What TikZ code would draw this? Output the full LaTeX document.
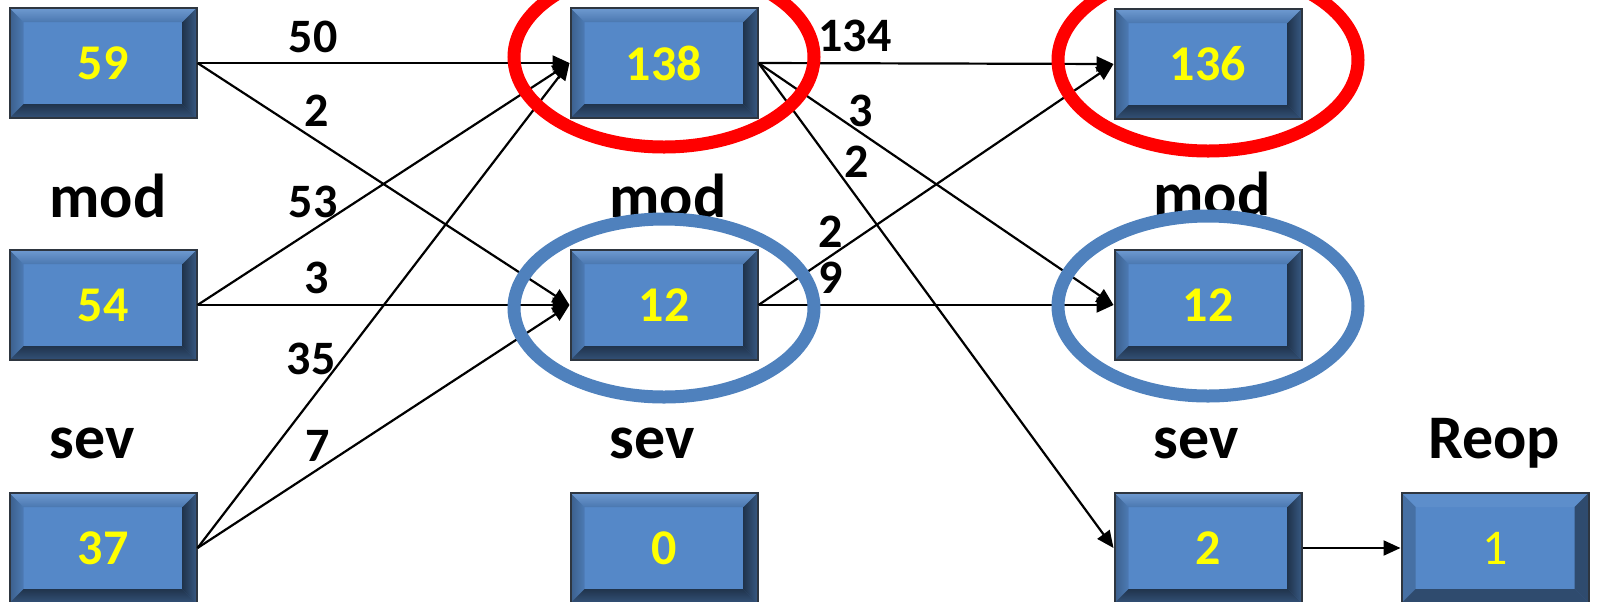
\documentclass[tikz,border=0pt]{standalone}
\usepackage{fontspec}
\setmainfont{Carlito}
\usetikzlibrary{arrows.meta,calc}
\definecolor{face}{HTML}{5588C8}
\definecolor{boxline}{HTML}{2E3640}
\definecolor{numyellow}{HTML}{FFFF00}
\definecolor{ringblue}{HTML}{4F81BD}
\definecolor{ringred}{HTML}{FF0000}
\tikzset{
  bevelbox/.style={draw=boxline, line width=1pt, fill=face,
    minimum width=93.5pt, minimum height=55pt, inner sep=0pt,
    text=numyellow, font=\bfseries\fontsize{25}{30}\selectfont,
    path picture={
      \coordinate (bxD) at (path picture bounding box.north west);
      \coordinate (bxC) at (path picture bounding box.north east);
      \coordinate (bxA) at (path picture bounding box.south west);
      \coordinate (bxB) at (path picture bounding box.south east);
      \coordinate (bxd) at ($(bxD)+(7pt,-7pt)$);
      \coordinate (bxc) at ($(bxC)+(-7pt,-7pt)$);
      \coordinate (bxa) at ($(bxA)+(7pt,7pt)$);
      \coordinate (bxb) at ($(bxB)+(-7pt,7pt)$);
      \shade[top color=#1top, bottom color=#1topin] (bxD) -- (bxC) -- (bxc) -- (bxd) -- cycle;
      \shade[left color=#1left, right color=#1leftin] (bxA) -- (bxD) -- (bxd) -- (bxa) -- cycle;
      \shade[left color=#1rightin, right color=#1right] (bxB) -- (bxC) -- (bxc) -- (bxb) -- cycle;
      \shade[top color=#1botin, bottom color=#1bot] (bxA) -- (bxB) -- (bxb) -- (bxa) -- cycle;
    }},
  bevelbox/.default=s,
  conn/.style={line width=1.1pt, -{Triangle[length=8.5pt,width=7.5pt]}},
  lab/.style={anchor=base, font=\bfseries\fontsize{31}{36}\selectfont},
  elab/.style={anchor=base, font=\bfseries\fontsize{24}{28}\selectfont},
  ring/.style={line width=6.5pt}
}
% soft bevel colours
\colorlet{stop}{face!85!white}
\colorlet{stopin}{face!88!black}
\colorlet{sleft}{face!70!black}
\colorlet{sleftin}{face!90!black}
\colorlet{sright}{face!65!black}
\colorlet{srightin}{face!38!black}
\colorlet{sbot}{face!60!black}
\colorlet{sbotin}{face!38!black}
% flat bevel colours
\colorlet{ftop}{face!95!white}
\colorlet{ftopin}{face!95!white}
\colorlet{fleft}{face!82!black}
\colorlet{fleftin}{face!82!black}
\colorlet{fright}{face!55!black}
\colorlet{frightin}{face!55!black}
\colorlet{fbot}{face!55!black}
\colorlet{fbotin}{face!55!black}
\begin{document}
\begin{tikzpicture}[x=0.5pt, y=-0.5pt]
\useasboundingbox (0,0) rectangle (1597,601);
% boxes
\node[bevelbox] (a59) at (103,63) {59};
\node[bevelbox] (a54) at (103,305) {54};
\node[bevelbox] (a37) at (103,548) {37};
\node[bevelbox] (b138) at (664,63) {138};
\node[bevelbox] (b12) at (664,305) {12};
\node[bevelbox] (b0) at (664,548) {0};
\node[bevelbox] (c136) at (1208,64) {136};
\node[bevelbox] (c12) at (1208,305) {12};
\node[bevelbox] (c2) at (1208,548) {2};
\node[bevelbox=f, font=\fontsize{25}{30}\selectfont] (d1) at (1495,548) {1};
% column labels
\node[lab] (m1) at (108,217) {mod};
\node[lab] (s1) at (92,458) {sev};
\node[lab] (m2) at (668,217) {mod};
\node[lab] (s2) at (652,458) {sev};
\node[lab] (m3) at (1212,215) {mod};
\node[lab] (s3) at (1196,458) {sev};
\node[lab] (r4) at (1494,458) {Reop};
% connectors
\draw[conn] (a59.east) -- (b138.west);
\draw[conn] (a59.east) -- (b12.west);
\draw[conn] (a54.east) -- (b138.west);
\draw[conn] (a54.east) -- (b12.west);
\draw[conn] (a37.east) -- (b138.west);
\draw[conn] (a37.east) -- (b12.west);
\draw[conn] (b138.east) -- (c136.west);
\draw[conn] (b138.east) -- (c12.west);
\draw[conn] (b138.east) -- (c2.west);
\draw[conn] (b12.east) -- (c136.west);
\draw[conn] (b12.east) -- (c12.west);
\draw[conn] (c2.east) -- (d1.west);
% edge labels
\node[elab] (e50) at (313,52) {50};
\node[elab] (e2a) at (317,126) {2};
\node[elab] (e53) at (313,217) {53};
\node[elab] (e3a) at (317,293) {3};
\node[elab] (e35) at (311,374) {35};
\node[elab] (e7) at (318,461) {7};
\node[elab] (e134) at (855,51) {134};
\node[elab] (e3b) at (861,126) {3};
\node[elab] (e2b) at (857,177) {2};
\node[elab] (e2c) at (831,247) {2};
\node[elab] (e9) at (831,293) {9};
% rings
\draw[ring, ringred] (664,57) ellipse [x radius=75pt, y radius=45pt];
\draw[ring, ringred] (1208,60) ellipse [x radius=75pt, y radius=45.5pt];
\draw[ring, ringblue] (664,308) ellipse [x radius=75pt, y radius=44.5pt];
\draw[ring, ringblue] (1208,306) ellipse [x radius=75pt, y radius=45pt];
\end{tikzpicture}
\end{document}
